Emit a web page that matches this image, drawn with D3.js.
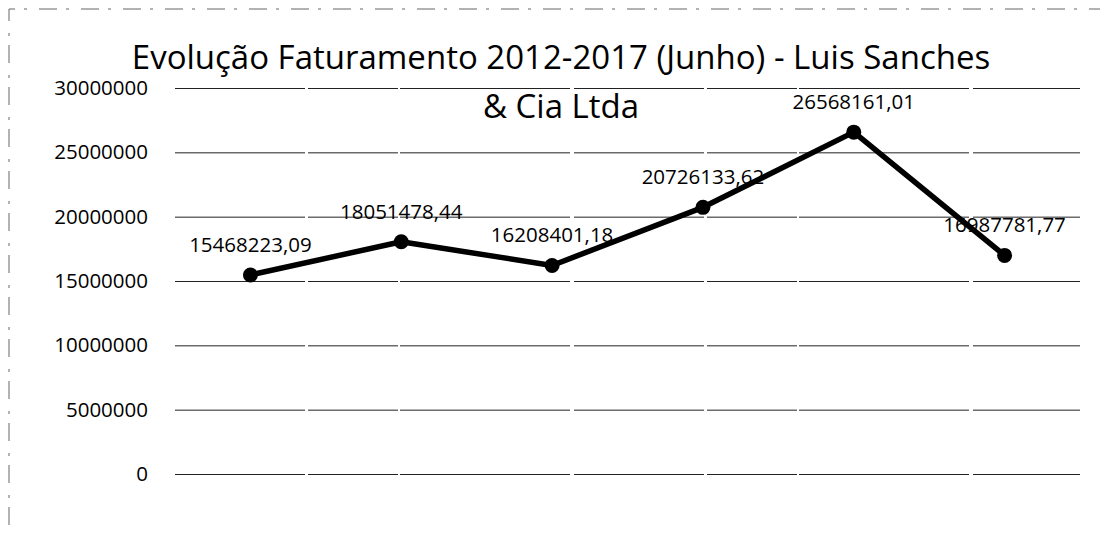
<!DOCTYPE html>
<html>
<head>
<meta charset="utf-8">
<script src="https://cdn.jsdelivr.net/npm/d3@7"></script>
<style>
  body { margin: 0; background: #fff; }
  svg text { font-family: "Open Sans", "Noto Sans", sans-serif; fill: #000; }
</style>
</head>
<body>
<div id="chart"></div>
<script>
var years = ["2012", "2013", "2014", "2015", "2016", "2017"];
var faturamento = [15468223.09, 18051478.44, 16208401.18, 20726133.62, 26568161.01, 16987781.77];
var y_ticks = [0, 5000000, 10000000, 15000000, 20000000, 25000000, 30000000];
var title_lines = ["Evolução Faturamento 2012-2017 (Junho) - Luis Sanches", "& Cia Ltda"];

var width_chart  = 1108;
var height_chart = 536;
var margin_chart = {top: 88, right: 28, bottom: 62, left: 175};

var pt_locale = d3.formatLocale({decimal: ",", thousands: "", grouping: [3], currency: ["R$", ""]});
var fmt_value = pt_locale.format(".2f");

var svg_chart = d3.select("#chart").append("svg")
  .attr("width", width_chart)
  .attr("height", height_chart);

// faint scanned frame
svg_chart.append("path")
  .attr("d", "M9,540 L9,9 L1100,9")
  .attr("fill", "none")
  .attr("stroke", "#666")
  .attr("stroke-width", 1)
  .attr("stroke-dasharray", "3,12,18,9");

var x_chart = d3.scalePoint()
  .domain(years)
  .range([margin_chart.left, width_chart - margin_chart.right])
  .padding(0.5);

var y_chart = d3.scaleLinear()
  .domain([0, 30000000])
  .range([height_chart - margin_chart.bottom, margin_chart.top]);

// gridlines + labels
var axis_chart = svg_chart.append("g")
  .attr("transform", "translate(" + margin_chart.left + ",0)")
  .call(d3.axisLeft(y_chart)
    .tickValues(y_ticks)
    .tickFormat(d3.format("d"))
    .tickSize(-(width_chart - margin_chart.left - margin_chart.right))
    .tickPadding(27));
axis_chart.select(".domain").remove();
axis_chart.selectAll(".tick line")
  .attr("stroke", "#222")
  .attr("stroke-width", 1)
  .attr("stroke-dasharray", "130,3,90,2,170,4");
axis_chart.selectAll(".tick text")
  .style("font-size", "20.5px")
  .style("font-family", "'Open Sans', sans-serif")
  .attr("fill", "#000");

// title
svg_chart.append("g").selectAll("text")
  .data(title_lines)
  .join("text")
  .attr("x", 561)
  .attr("y", function (d, i) { return 69 + i * 49; })
  .attr("text-anchor", "middle")
  .style("font-size", "33px")
  .text(function (d) { return d; });

var line_chart = d3.line()
  .x(function (d, i) { return x_chart(years[i]); })
  .y(function (d) { return y_chart(d); });

svg_chart.append("path")
  .datum(faturamento)
  .attr("fill", "none")
  .attr("stroke", "#000")
  .attr("stroke-width", 5.5)
  .attr("stroke-linejoin", "round")
  .attr("d", line_chart);

svg_chart.append("g").selectAll("circle")
  .data(faturamento)
  .join("circle")
  .attr("cx", function (d, i) { return x_chart(years[i]); })
  .attr("cy", function (d) { return y_chart(d); })
  .attr("r", 7.5)
  .attr("fill", "#000");

svg_chart.append("g").selectAll("text")
  .data(faturamento)
  .join("text")
  .attr("x", function (d, i) { return x_chart(years[i]); })
  .attr("y", function (d) { return y_chart(d) - 23; })
  .attr("text-anchor", "middle")
  .style("font-size", "20.5px")
  .text(function (d) { return fmt_value(d); });
</script>
</body>
</html>
